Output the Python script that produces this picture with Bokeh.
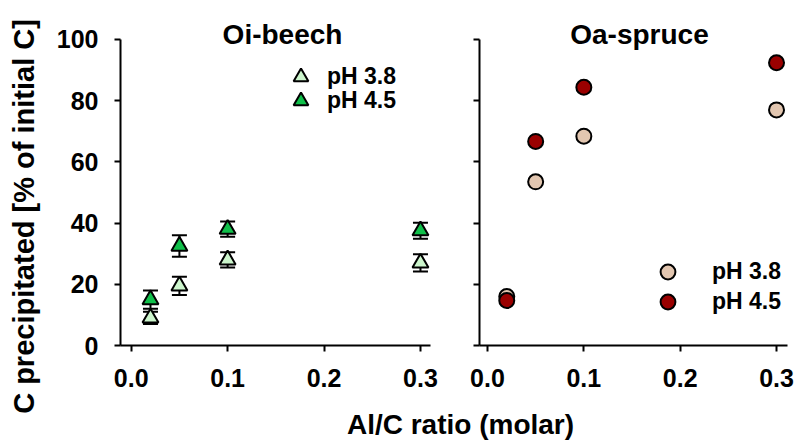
import math
from bokeh.plotting import figure
from bokeh.models import (Range1d, FixedTicker, Whisker, TeeHead, ColumnDataSource,
                          Legend, LegendItem, Label, NumeralTickFormatter, CustomJSTickFormatter)
from bokeh.layouts import column, row
from bokeh.embed import file_html
from bokeh.resources import INLINE

# ---------------- data ----------------
al_c_ratio = [0.02, 0.05, 0.1, 0.3]

beech_ph38 = [9.0, 19.5, 28.0, 27.0]
beech_ph38_err = [2.0, 3.0, 2.5, 2.8]
beech_ph45 = [15.0, 32.5, 38.0, 37.5]
beech_ph45_err = [3.0, 3.5, 2.5, 2.6]

spruce_ph38 = [16.0, 53.5, 68.4, 77.0]
spruce_ph45 = [14.7, 66.7, 84.4, 92.4]

x_ticks = [0.0, 0.1, 0.2, 0.3]
y_ticks = [0, 20, 40, 60, 80, 100]

panel_titles = ["Oi-beech", "Oa-spruce"]
series_labels = ["pH 3.8", "pH 4.5"]
y_label = "C precipitated [% of initial C]"
x_label = "Al/C ratio (molar)"

FONT = "Liberation Sans"
TICK_SIZE = "25px"
Y_TOP = 112.745   # frame reaches the top of the canvas; the axis line stops at 100


def style_axes(p, show_y_labels):
    p.xaxis.ticker = FixedTicker(ticks=x_ticks)
    p.yaxis.ticker = FixedTicker(ticks=y_ticks)
    p.xaxis.formatter = NumeralTickFormatter(format="0.0")
    p.yaxis.bounds = (0, 100)
    for ax in p.axis:
        ax.axis_line_width = 2
        ax.axis_line_color = "black"
        ax.major_tick_line_width = 2
        ax.major_tick_line_color = "black"
        ax.major_tick_out = 6
        ax.major_tick_in = 0
        ax.minor_tick_out = 0
        ax.minor_tick_in = 0
        ax.major_label_text_font = FONT
        ax.major_label_text_font_style = "bold"
        ax.major_label_text_font_size = TICK_SIZE
        ax.major_label_text_color = "black"
    p.xaxis.major_label_standoff = 17
    p.yaxis.major_label_standoff = 16
    if not show_y_labels:
        p.yaxis.formatter = CustomJSTickFormatter(code="return ''")
        p.yaxis.major_label_standoff = 0
    p.grid.visible = False
    p.outline_line_color = None


def add_title(p, text, x):
    p.add_layout(Label(x=x, y=311, x_units="screen", y_units="screen", text=text,
                       text_align="center", text_baseline="middle",
                       text_font=FONT, text_font_style="bold", text_font_size="28px",
                       text_color="black"))


def one_item_legend(label, renderer, x, y, standoff):
    return Legend(items=[LegendItem(label=label, renderers=[renderer])],
                  location=(x, y), orientation="vertical",
                  glyph_width=37, glyph_height=37, spacing=0, padding=0, margin=0,
                  label_standoff=standoff, border_line_alpha=0, background_fill_alpha=0,
                  label_text_font=FONT, label_text_font_style="bold",
                  label_text_font_size="23px", label_text_color="black")


# ---------------- y-axis title strip ----------------
py = figure(width=50, height=440, x_range=Range1d(0, 1), y_range=Range1d(0, 1), title=None,
            toolbar_location=None, output_backend="svg", min_border=0)
py.axis.visible = False
py.grid.visible = False
py.outline_line_color = None
py.add_layout(Label(x=23, y=224, x_units="screen", y_units="screen", text=y_label,
                    angle=math.pi / 2, text_align="center", text_baseline="middle",
                    text_font=FONT, text_font_style="bold", text_font_size="29px",
                    text_color="black"))

# ---------------- left panel: Oi-beech ----------------
p1 = figure(width=400, height=395, x_range=Range1d(-0.0111, 0.3104), y_range=Range1d(0, Y_TOP),
            title=None, toolbar_location=None, output_backend="svg",
            min_border_left=70, min_border_right=20, min_border_top=0, min_border_bottom=50)
style_axes(p1, True)

src38 = ColumnDataSource(dict(x=al_c_ratio, y=beech_ph38,
                              lo=[v - e for v, e in zip(beech_ph38, beech_ph38_err)],
                              hi=[v + e for v, e in zip(beech_ph38, beech_ph38_err)]))
src45 = ColumnDataSource(dict(x=al_c_ratio, y=beech_ph45,
                              lo=[v - e for v, e in zip(beech_ph45, beech_ph45_err)],
                              hi=[v + e for v, e in zip(beech_ph45, beech_ph45_err)]))

for src in (src38, src45):
    p1.add_layout(Whisker(source=src, base="x", lower="lo", upper="hi", line_width=2,
                          line_color="black", level="underlay",
                          upper_head=TeeHead(size=15, line_width=2, line_color="black"),
                          lower_head=TeeHead(size=15, line_width=2, line_color="black")))

r38 = p1.scatter("x", "y", source=src38, marker="triangle", size=16,
                 fill_color="#CCF5CC", line_color="black", line_width=2)
r45 = p1.scatter("x", "y", source=src45, marker="triangle", size=16,
                 fill_color="#10C04A", line_color="black", line_width=2)

p1.add_layout(one_item_legend(series_labels[0], r38, 162, 250, 8))
p1.add_layout(one_item_legend(series_labels[1], r45, 162, 226, 8))
add_title(p1, panel_titles[0], 162)

# ---------------- right panel: Oa-spruce ----------------
p2 = figure(width=346, height=395, x_range=Range1d(-0.0083, 0.3114), y_range=Range1d(0, Y_TOP),
            title=None, toolbar_location=None, output_backend="svg",
            min_border_left=29, min_border_right=9, min_border_top=0, min_border_bottom=50)
style_axes(p2, False)

s38 = p2.scatter(al_c_ratio, spruce_ph38, marker="circle", size=15,
                 fill_color="#E2C6B0", line_color="black", line_width=2)
s45 = p2.scatter(al_c_ratio, spruce_ph45, marker="circle", size=15,
                 fill_color="#9A0000", line_color="black", line_width=2)

p2.add_layout(one_item_legend(series_labels[0], s38, 170, 55, 26))
p2.add_layout(one_item_legend(series_labels[1], s45, 170, 25, 26))
add_title(p2, panel_titles[1], 160)

# ---------------- shared x-axis title strip ----------------
px = figure(width=746, height=45, x_range=Range1d(0, 1), y_range=Range1d(0, 1), title=None,
            toolbar_location=None, output_backend="svg", min_border=0)
px.axis.visible = False
px.grid.visible = False
px.outline_line_color = None
px.add_layout(Label(x=410, y=16, x_units="screen", y_units="screen", text=x_label,
                    text_align="center", text_baseline="middle",
                    text_font=FONT, text_font_style="bold", text_font_size="28px",
                    text_color="black"))

layout = row(py, column(row(p1, p2), px))
open("out.html", "w").write(file_html(layout, INLINE))
